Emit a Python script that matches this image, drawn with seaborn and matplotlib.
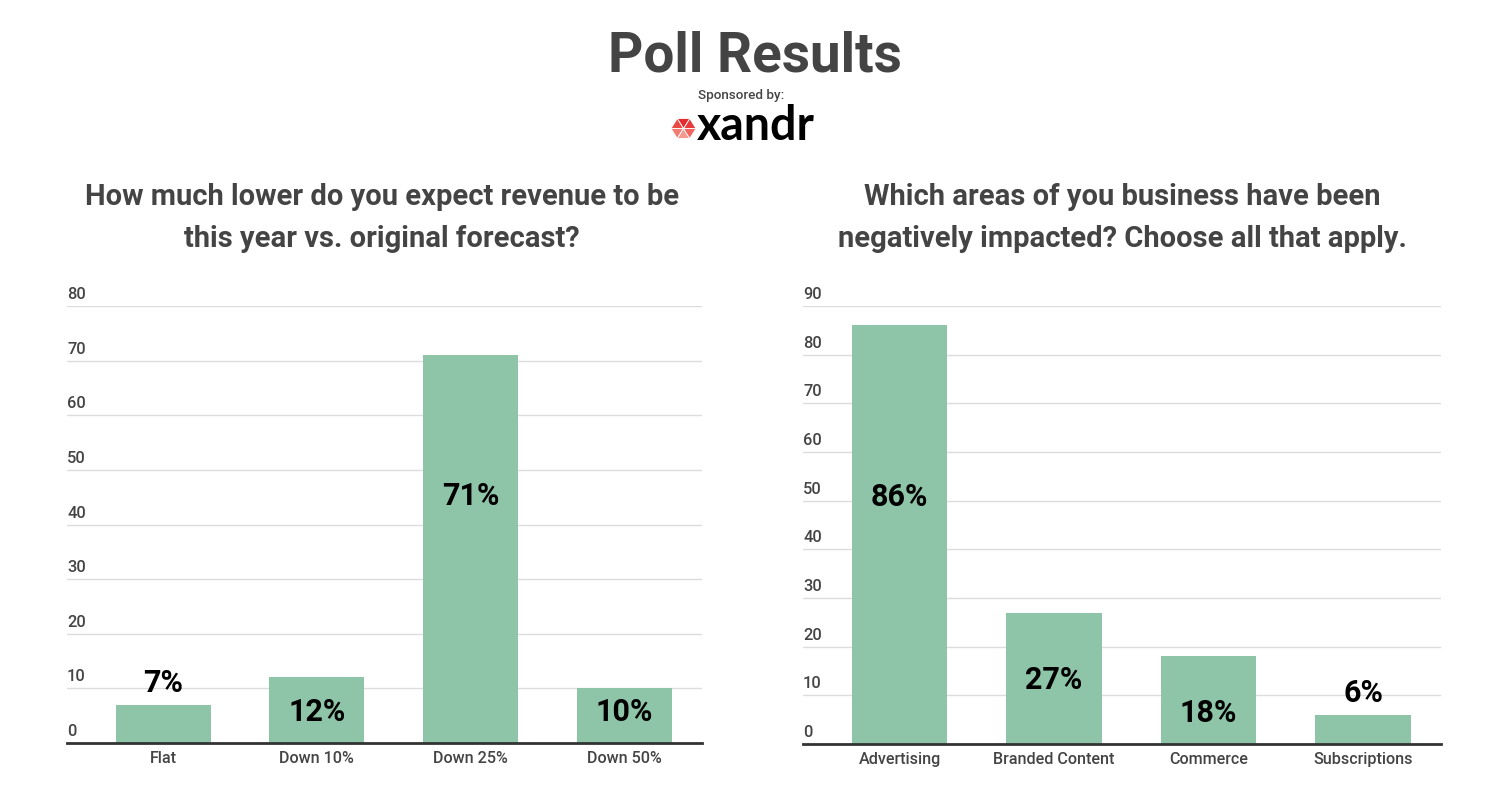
import matplotlib
matplotlib.use("Agg")
import matplotlib.pyplot as plt
import seaborn as sns
import pandas as pd
import numpy as np
from matplotlib.patches import Polygon
from matplotlib.transforms import offset_copy

sns.set_theme(style="white")
plt.rcParams['font.family'] = ['Roboto', 'DejaVu Sans']

# ---------------- data ----------------
revenue_categories = ["Flat", "Down 10%", "Down 25%", "Down 50%"]
revenue_values = [7, 12, 71, 10]
revenue_title = "How much lower do you expect revenue to be\nthis year vs. original forecast?"
revenue_yticks = [0, 10, 20, 30, 40, 50, 60, 70, 80]

impact_categories = ["Advertising", "Branded Content", "Commerce", "Subscriptions"]
impact_values = [86, 27, 18, 6]
impact_title = "Which areas of you business have been\nnegatively impacted? Choose all that apply."
impact_yticks = [0, 10, 20, 30, 40, 50, 60, 70, 80, 90]

main_title = "Poll Results"
sponsor_text = "Sponsored by:"
sponsor_name = "xandr"

# ---------------- style ----------------
BAR = "#8ec4a8"
TXT = "#444444"
GRID = "#dcdcdc"
W, H = 1500, 805

fig = plt.figure(figsize=(15, 8.05), dpi=100)


def box(x0, y0, x1, y1):
    return [x0 / W, 1 - y1 / H, (x1 - x0) / W, (y1 - y0) / H]


def draw(ax, cats, vals, yticks, title_txt, cx):
    df = pd.DataFrame({"cat": cats, "val": vals})
    sns.barplot(data=df, x="cat", y="val", color=BAR, width=0.617,
                saturation=1, ax=ax, edgecolor="none")
    ymax = yticks[-1]
    ax.set_ylim(0, ymax)
    ax.set_xlim(-0.625, 3.505)
    ax.set_yticks(yticks)
    ax.set_yticklabels([])
    ax.tick_params(axis="y", length=0)
    ax.tick_params(axis="x", length=0, pad=6, labelsize=11.6, labelcolor=TXT)
    for lab in ax.get_xticklabels():
        lab.set_fontweight("medium")
    ax.set_xlabel("")
    ax.set_ylabel("")
    for s in ["top", "right", "left"]:
        ax.spines[s].set_visible(False)
    ax.spines["bottom"].set_color("#333333")
    ax.spines["bottom"].set_linewidth(2)
    ax.grid(axis="y", color=GRID, linewidth=1)
    ax.set_axisbelow(True)
    tr = offset_copy(ax.get_yaxis_transform(), fig=fig, x=0, y=4, units="dots")
    for t in yticks:
        ax.text(0, t, str(t), transform=tr, ha="left", va="bottom",
                fontsize=11.8, color=TXT, fontweight="medium")
    # value labels
    for i, v in enumerate(vals):
        frac = v / ymax
        if frac < 0.1:
            trl = offset_copy(ax.transData, fig=fig, x=0, y=22, units="dots")
            ax.text(i, v, f"{v}%", transform=trl, ha="center", va="center",
                    fontsize=22, fontweight="bold", color="black")
        elif frac > 0.5:
            ax.text(i, 0.565 * ymax, f"{v}%", ha="center", va="center",
                    fontsize=22, fontweight="bold", color="black")
        elif frac > 0.25:
            ax.text(i, v / 2 - 0.4, f"{v}%", ha="center", va="center",
                    fontsize=22, fontweight="bold", color="black")
        else:
            ax.text(i, 0.071 * ymax, f"{v}%", ha="center", va="center",
                    fontsize=22, fontweight="bold", color="black")
    fig.text(cx / W, 1 - 218 / H, title_txt, ha="center", va="center",
             fontsize=21, fontweight="bold", color=TXT, linespacing=1.65)


ax1 = fig.add_axes(box(67, 306, 702, 743))
draw(ax1, revenue_categories, revenue_values, revenue_yticks, revenue_title, 382)
ax2 = fig.add_axes(box(803, 306, 1441, 744))
draw(ax2, impact_categories, impact_values, impact_yticks, impact_title, 1122)

# header
fig.text(755 / W, 1 - 56 / H, main_title, ha="center", va="center",
         fontsize=39.5, fontweight="bold", color=TXT)
fig.text(741 / W, 1 - 96 / H, sponsor_text, ha="center", va="center",
         fontsize=9.7, fontweight="medium", color=TXT)
fig.text(697 / W, 1 - 140 / H, sponsor_name, ha="left", va="baseline",
         fontsize=33.5, fontweight="bold", color="black",
         family=["Lato", "DejaVu Sans"])

# logo hexagon
lax = fig.add_axes(box(670, 116, 697, 141))
lax.set_xlim(-1.08, 1.08)
lax.set_ylim(-1.0, 1.0)
lax.axis("off")
ang = np.deg2rad(np.arange(0, 360, 60))
px, py = np.cos(ang) * 1.0, np.sin(ang) * 0.92
cols = ["#e8383a", "#e42a2f", "#ea4a45", "#f27b72", "#f59a8f", "#f0665f"]
for k in range(6):
    a, b = k, (k + 1) % 6
    poly = Polygon([[0, 0], [px[a], py[a]], [px[b], py[b]]], closed=True,
                   facecolor=cols[k], edgecolor="white", linewidth=0.6)
    lax.add_patch(poly)

fig.savefig("out.png", dpi=100, facecolor="white")
